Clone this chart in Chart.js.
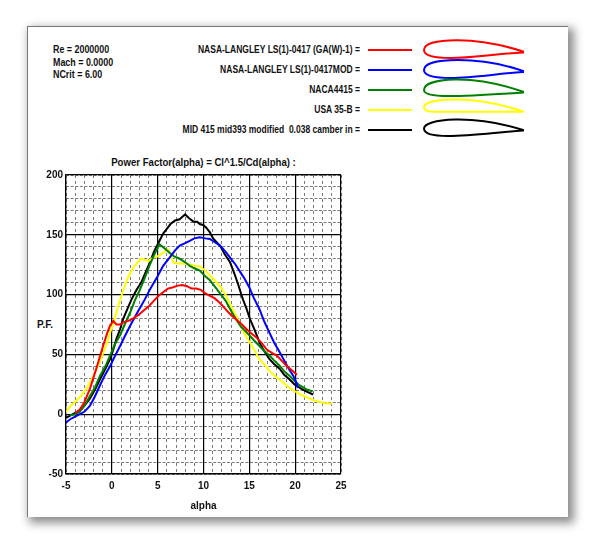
<!DOCTYPE html>
<html>
<head>
<meta charset="utf-8">
<script src="https://cdn.jsdelivr.net/npm/chart.js@4.4.0/dist/chart.umd.min.js"></script>
<style>
  html, body { margin: 0; padding: 0; background: #fff; }
  body { width: 594px; height: 543px; position: relative; overflow: hidden;
         font-family: "Liberation Sans", Arial, sans-serif; font-weight: bold; color: #111; }
  #panel { position: absolute; left: 27px; top: 26px; width: 540px; height: 490px;
           background: #fff; border-left: 1px solid #777; border-top: 1px solid #777;
           box-shadow: 4px 4px 9px 2px rgba(0,0,0,0.45); }
  #cv { position: absolute; left: 0; top: 0; }
  .txt { position: absolute; font-size: 10px; line-height: 12px; white-space: nowrap; }
  .params { transform: scaleX(0.89); transform-origin: left center; }
  .legtxt { left: 60px; width: 300px; text-align: right;
            transform: scaleX(0.85); transform-origin: right center; }
  .seg { position: absolute; left: 368px; width: 44px; height: 2px; }
  .foil { position: absolute; left: 423px; width: 100px; height: 22px; overflow: visible; }
</style>
</head>
<body>
<div id="panel"></div>

<div class="txt params" style="left:53px; top:44px;">Re = 2000000</div>
<div class="txt params" style="left:53px; top:56.5px;">Mach = 0.0000</div>
<div class="txt params" style="left:53px; top:69px;">NCrit = 6.00</div>

<div id="legend"></div>

<div class="txt" style="left:56px; width:295px; text-align:center; top:157px; transform:scaleX(0.96);">Power Factor(alpha) = Cl^1.5/Cd(alpha) :</div>
<div class="txt" style="left:37px; top:319px;">P.F.</div>

<canvas id="cv" width="594" height="543"></canvas>

<script>
// alpha (deg) / P.F. values
const redAlpha = [-4.0, -3.5, -3.0, -2.4, -1.7, -1.0, -0.5, -0.2, 0.15, 0.5, 0.9, 1.3, 1.8, 2.3, 2.9, 3.5, 4.0, 4.6, 5.1, 5.6, 6.1, 6.6, 7.2, 7.7, 8.2, 8.7, 9.2, 9.7, 10.2, 10.7, 11.2, 11.8, 12.5, 13.0, 13.6, 14.2, 14.7, 15.3, 15.8, 16.4, 16.9, 17.5, 18.0, 18.5, 19.0, 19.6, 20.2];
const redPF    = [1, 4, 10, 21, 38, 56, 68, 74, 78, 75, 75, 77, 78, 80, 83, 87, 90, 95, 99, 102, 105, 106, 107.5, 108, 107, 105, 105, 104, 101, 99, 97, 93, 87, 83, 79, 75, 71, 67, 64, 59, 54, 51, 49, 45, 41, 37, 33];

const blueAlpha = [-5.0, -4.5, -4.0, -3.5, -3.0, -2.4, -1.9, -1.3, -0.8, -0.2, 0.3, 0.9, 1.4, 2.0, 2.5, 3.0, 3.6, 4.2, 4.9, 5.6, 6.3, 6.9, 7.4, 8.0, 8.5, 9.0, 9.6, 10.2, 10.7, 11.2, 11.8, 12.4, 12.9, 13.5, 14.0, 14.5, 15.0, 15.5, 16.1, 16.6, 17.2, 17.7, 18.3, 18.8, 19.3, 19.8, 20.1, 20.3];
const bluePF    = [-7, -4, -2, 0, 2, 7, 14, 24, 32, 40, 48, 57, 65, 74, 81, 88, 96, 105, 114, 124, 131, 137, 141, 143, 145, 147, 148, 147, 146.5, 144, 141, 136, 131, 125, 119, 113, 106, 97, 88, 78, 68, 60, 52, 45, 38, 32, 27, 22];

const greenAlpha = [-4.6, -4.0, -3.5, -3.0, -2.4, -1.8, -1.3, -0.7, -0.2, 0.3, 0.9, 1.4, 2.0, 2.5, 3.0, 3.5, 4.1, 4.6, 5.2, 5.7, 6.3, 6.8, 7.4, 8.0, 8.5, 9.0, 9.6, 10.1, 10.7, 11.2, 11.8, 12.4, 12.9, 13.5, 14.0, 14.5, 15.0, 15.6, 16.1, 16.6, 17.2, 17.7, 18.3, 18.8, 19.4, 19.9, 20.5, 21.2, 21.9];
const greenPF    = [-1, 0, 2, 7, 15, 23, 32, 40, 49, 58, 66, 75, 85, 95, 103, 112, 124, 133, 142, 139, 135, 132, 130, 127, 124, 122, 120, 116, 112, 107, 101, 95, 88, 80, 74, 70, 66, 61, 57, 53, 49, 45, 40.5, 36, 32, 28, 24, 21, 19];

const yellowAlpha = [-5.0, -4.5, -3.9, -3.3, -2.8, -2.2, -1.7, -1.3, -0.9, -0.5, -0.2, 0.2, 0.5, 0.8, 1.05, 1.4, 1.7, 2.0, 2.4, 2.8, 3.2, 3.6, 4.0, 4.5, 5.0, 5.6, 6.1, 6.4, 6.7, 7.2, 7.7, 8.1, 8.6, 9.1, 9.6, 10.2, 10.7, 11.2, 11.8, 12.4, 12.9, 13.5, 14.0, 14.5, 15.05, 15.6, 16.1, 16.7, 17.2, 17.8, 18.3, 18.9, 19.4, 20.0, 20.5, 21.0, 21.6, 22.1, 22.7, 23.3, 24.0];
const yellowPF    = [2, 7, 11, 16, 21, 29, 37, 44, 52, 60, 68, 77, 85, 93, 99, 107, 113, 118, 123, 127, 130, 129, 128, 131, 132, 135, 138, 134, 127, 126, 126, 125.5, 125, 124, 123.5, 120, 116, 112, 107, 100, 92, 83, 75, 67, 60, 53, 46, 41, 36, 32, 29, 25, 22, 19, 16.7, 15, 13, 11.5, 10.3, 9, 9];

const blackAlpha = [-5.0, -4.5, -4.0, -3.5, -3.0, -2.4, -1.8, -1.3, -0.7, -0.2, 0.2, 0.5, 0.9, 1.25, 1.7, 2.15, 2.7, 3.2, 3.6, 4.1, 4.6, 5.2, 5.6, 6.0, 6.4, 6.9, 7.4, 7.7, 8.0, 8.4, 8.9, 9.3, 9.6, 10.0, 10.3, 10.7, 11.05, 11.4, 11.8, 12.3, 12.9, 13.4, 13.8, 14.3, 14.7, 15.05, 15.6, 16.1, 16.6, 17.2, 17.7, 18.3, 18.8, 19.4, 19.9, 20.5, 21.2, 21.95];
const blackPF    = [-3, -1, 1, 3, 7, 13, 21, 29, 38, 46, 55, 63, 71, 80, 88, 96, 104, 110, 117, 126, 136, 145, 151, 155, 159, 162, 163, 165, 167, 164, 161, 161, 159, 158, 156, 152, 147, 144, 141, 134, 127, 117, 108, 96, 88, 80, 70, 60, 53, 46, 42, 38, 33, 29, 25, 22, 19, 16.5];

const seriesNames = [
  'NASA-LANGLEY LS(1)-0417 (GA(W)-1) =',
  'NASA-LANGLEY LS(1)-0417MOD =',
  'NACA4415 =',
  'USA 35-B =',
  'MID 415 mid393 modified&nbsp; 0.038 camber in ='
];
const seriesColors = ['#ff0000', '#0000ff', '#008000', '#ffff00', '#000000'];
const seriesAlpha = [redAlpha, blueAlpha, greenAlpha, yellowAlpha, blackAlpha];
const seriesPF = [redPF, bluePF, greenPF, yellowPF, blackPF];

const xTickStep = 5, xMin = -5, xMax = 25;
const yTickStep = 50, yMin = -50, yMax = 200;

// rough airfoil outlines for the legend
const foilPaths = [
  'M100,12.5 C80,6 60,1.5 35,1.2 C12,1 1,5 1,11 C1,16 8,19 28,19 C50,19 70,15 100,13.5 Z',
  'M100,12 C80,5 60,1 35,1 C12,1 1,5 1,11 C1,16 8,19 28,19 C50,19 72,15 100,13 Z',
  'M100,12.7 C75,4 55,0 32,0.5 C12,1 1,5 1,11 C1,15 8,17 25,17 C50,17 75,15 100,13.5 Z',
  'M100,12.5 C75,4 55,0 30,0.5 C10,1 1,4 1,8 C1,11 3,12.7 10,12.7 L100,12.7 Z',
  'M100,11 C75,3 55,0 32,0.5 C12,1 1,5 1,9.5 C1,14 8,17 25,17 C50,17 75,13 100,11.5 Z'
];

const legend = document.getElementById('legend');
seriesNames.forEach((name, i) => {
  const rowY = 50 + i * 20;
  legend.insertAdjacentHTML('beforeend',
    `<div class="txt legtxt" style="top:${rowY - 6}px">${name}</div>` +
    `<div class="seg" style="top:${rowY - 1}px;background:${seriesColors[i]}"></div>` +
    `<svg class="foil" style="top:${rowY - 11}px" viewBox="0 0 100 22" preserveAspectRatio="none">` +
    `<path d="${foilPaths[i]}" fill="none" stroke="${seriesColors[i]}" stroke-width="2"/></svg>`);
});

const tickFont = { family: 'Liberation Sans', weight: 'bold', size: 10 };

const datasets = seriesNames.map((name, i) => ({
  label: name,
  data: seriesAlpha[i].map((a, k) => ({ x: a, y: seriesPF[i][k] })),
  borderColor: seriesColors[i],
  borderWidth: 2,
  pointRadius: 0,
  tension: 0,
  xAxisID: 'x',
  yAxisID: 'y'
}));

new Chart(document.getElementById('cv'), {
  type: 'line',
  data: { datasets: datasets },
  options: {
    responsive: false,
    animation: false,
    layout: { padding: { left: 36, right: 253, top: 175, bottom: 29 } },
    plugins: { legend: { display: false }, tooltip: { enabled: false } },
    scales: {
      // vertical dashed minor lines
      xMinor: {
        type: 'linear', position: 'top', min: xMin, max: xMax, z: -2,
        ticks: { display: false, stepSize: 1 },
        grid: { color: '#7a7a7a', lineWidth: 1, drawTicks: false },
        border: { display: false, dash: [3, 3] },
        afterFit: (s) => { s.height = 0; }
      },
      // horizontal dashed minor lines
      yMinor: {
        type: 'linear', position: 'right', min: yMin, max: yMax, z: -2,
        ticks: { display: false, stepSize: 10 },
        grid: { color: '#7a7a7a', lineWidth: 1, drawTicks: false },
        border: { display: false, dash: [3, 1.6] },
        afterFit: (s) => { s.width = 0; }
      },
      x: {
        type: 'linear', position: 'bottom', min: xMin, max: xMax, z: -1,
        ticks: { stepSize: xTickStep, font: tickFont, color: '#111', padding: 6, maxRotation: 0 },
        grid: { color: '#000', lineWidth: 1.2, drawTicks: false },
        border: { display: true, color: '#000', width: 1.2 },
        title: { display: true, text: 'alpha', color: '#111',
                 font: { family: 'Liberation Sans', weight: 'bold', size: 10 },
                 padding: { top: 0, bottom: 2 } },
        afterFit: (s) => { s.height = 40; }
      },
      y: {
        type: 'linear', position: 'left', min: yMin, max: yMax, z: -1,
        ticks: { stepSize: yTickStep, font: tickFont, color: '#111', padding: 3 },
        grid: { color: '#000', lineWidth: 1.2, drawTicks: false },
        border: { display: true, color: '#000', width: 1.2 },
        afterFit: (s) => { s.width = 30; }
      }
    }
  }
});
</script>
</body>
</html>
